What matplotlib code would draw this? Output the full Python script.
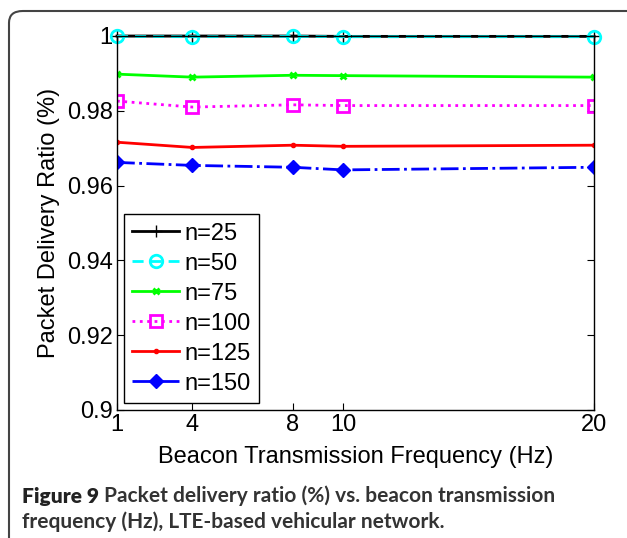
import matplotlib
matplotlib.use('Agg')
import matplotlib.pyplot as plt
from matplotlib.patches import FancyBboxPatch

# beacon frequency (Hz)
freq = [1, 4, 8, 10, 20]

# packet delivery ratio per number of vehicles
pdr_25 = [1.0, 1.0, 1.0, 0.9999, 0.9999]
pdr_50 = [0.9999, 0.9998, 0.9999, 0.9998, 0.9998]
pdr_75 = [0.9898, 0.9890, 0.9895, 0.9894, 0.9890]
pdr_100 = [0.9826, 0.9810, 0.9816, 0.9814, 0.9814]
pdr_125 = [0.9716, 0.9702, 0.9708, 0.9705, 0.9708]
pdr_150 = [0.9662, 0.9654, 0.9649, 0.9642, 0.9649]

yticks = [0.9, 0.92, 0.94, 0.96, 0.98, 1.0]
ytick_labels = ['0.9', '0.92', '0.94', '0.96', '0.98', '1']

plt.rcParams['font.family'] = ['Liberation Sans', 'DejaVu Sans']
fs = 17

fig = plt.figure(figsize=(6.27, 5.38), dpi=100)

# rounded frame around the figure (left and top edges visible)
frame = FancyBboxPatch((9 / 627, -0.2), 1.2, (538 - 11) / 538 + 0.2,
                       boxstyle='round,pad=0,rounding_size=0.022',
                       transform=fig.transFigure, fill=False,
                       edgecolor='#444444', linewidth=1.5, clip_on=False)
fig.patches.append(frame)

ax = fig.add_axes([117 / 627, 1 - 410 / 538, (594 - 117) / 627, (410 - 36) / 538])

lw = 2
ax.plot(freq, pdr_25, color='black', linestyle='-', marker='+', markersize=8,
        linewidth=lw, clip_on=False, label='n=25')
ax.plot(freq, pdr_50, color='cyan', linestyle='--', marker='o', markersize=9,
        markerfacecolor='none', markeredgewidth=2, linewidth=lw, clip_on=False,
        dashes=(4, 2.5), label='n=50')
ax.plot(freq, pdr_75, color='#00ff00', linestyle='-', marker='x', markersize=5,
        markeredgewidth=2, linewidth=lw, label='n=75')
ax.plot(freq, pdr_100, color='magenta', linestyle=':', marker='s', markersize=8,
        markerfacecolor='none', markeredgewidth=2, linewidth=lw, label='n=100')
ax.plot(freq, pdr_125, color='red', linestyle='-', marker='.', markersize=6,
        linewidth=lw, label='n=125')
ax.plot(freq, pdr_150, color='blue', linestyle='-.', marker='D', markersize=7,
        linewidth=lw, label='n=150')

ax.set_xlim(1, 20)
ax.set_ylim(0.9, 1.0)
ax.set_xticks(freq)
ax.set_xticklabels([str(f) for f in freq])
ax.set_yticks(yticks)
ax.set_yticklabels(ytick_labels)
ax.tick_params(direction='in', length=5, width=0.8, labelsize=fs,
               top=True, right=True, pad=3)
for s in ax.spines.values():
    s.set_linewidth(1.0)

ax.set_xlabel('Beacon Transmission Frequency (Hz)', fontsize=fs, labelpad=7)
ax.set_ylabel('Packet Delivery Ratio (%)', fontsize=fs, labelpad=5)

leg = ax.legend(loc='lower left', bbox_to_anchor=(0.0147, 0.0187),
                borderaxespad=0, fontsize=fs, fancybox=False, framealpha=1,
                edgecolor='black', handlelength=2.0, labelspacing=0.34,
                handletextpad=0.2, borderpad=0.35)
leg.get_frame().set_linewidth(1.0)

# caption
cfont = ['Lato', 'DejaVu Sans']
cs = 15
cap = fig.text(22 / 627, 1 - 503 / 538, 'Figure 9', fontsize=cs,
               fontweight='heavy', family=cfont, color='#222222', va='baseline')
ax.annotate(' Packet delivery ratio (%) vs. beacon transmission',
            xy=(1, 0), xycoords=cap, va='bottom', fontsize=cs,
            fontweight='bold', family=cfont, color='#333333')
fig.text(22 / 627, 1 - 528 / 538, 'frequency (Hz), LTE-based vehicular network.',
         fontsize=cs, fontweight='bold', family=cfont,
         color='#333333', va='baseline')

fig.savefig('out.png', dpi=100)
